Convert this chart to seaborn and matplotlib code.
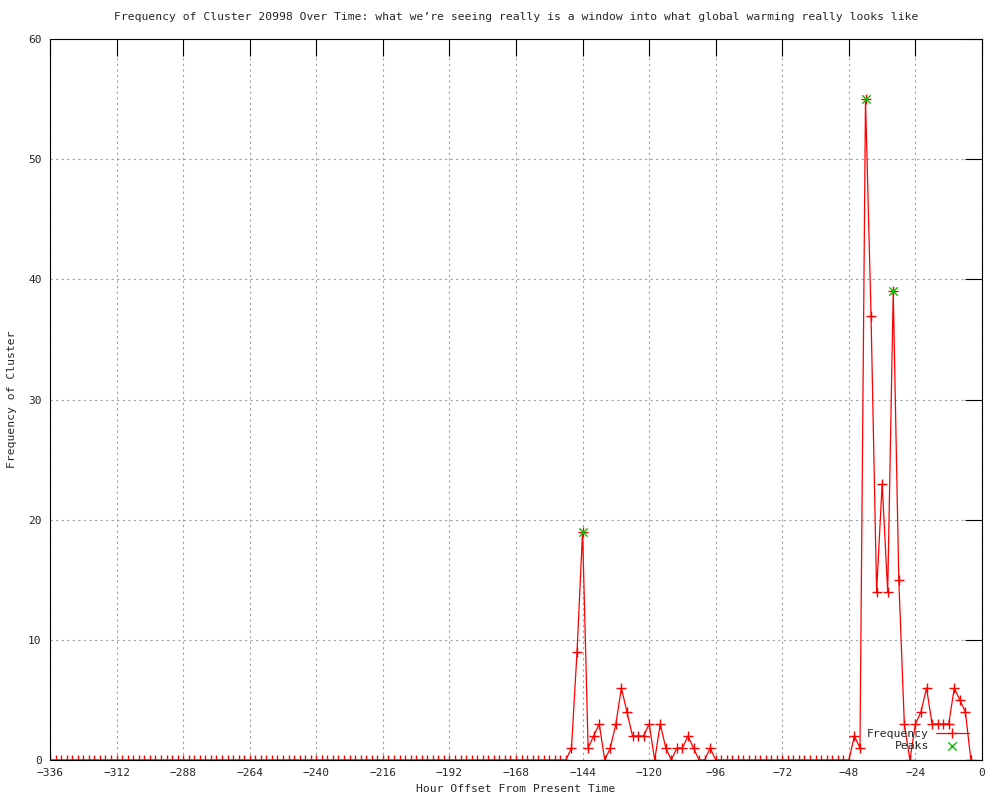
import pandas as pd
import matplotlib
matplotlib.use('Agg')
import matplotlib.pyplot as plt
import seaborn as sns

# Hour offsets (every 2 hours) and cluster counts
hours = list(range(-336, -2, 2))
frequency = [
    # -336 .. -150
    0, 0, 0, 0, 0, 0, 0, 0, 0, 0, 0, 0, 0, 0, 0, 0, 0, 0, 0, 0,
    0, 0, 0, 0, 0, 0, 0, 0, 0, 0, 0, 0, 0, 0, 0, 0, 0, 0, 0, 0,
    0, 0, 0, 0, 0, 0, 0, 0, 0, 0, 0, 0, 0, 0, 0, 0, 0, 0, 0, 0,
    0, 0, 0, 0, 0, 0, 0, 0, 0, 0, 0, 0, 0, 0, 0, 0, 0, 0, 0, 0,
    0, 0, 0, 0, 0, 0, 0, 0, 0, 0, 0, 0, 0, 0,
    # -148 .. -96
    1, 9, 19, 1, 2, 3, 0, 1, 3, 6, 4, 2, 2, 2, 3, 0, 3, 1, 0, 1,
    1, 2, 1, 0, 0, 1, 0,
    # -94 .. -48
    0, 0, 0, 0, 0, 0, 0, 0, 0, 0, 0, 0, 0, 0, 0, 0, 0, 0, 0, 0,
    0, 0, 0, 0,
    # -46 .. -4
    2, 1, 55, 37, 14, 23, 14, 39, 15, 3, 0, 3, 4, 6, 3, 3, 3, 3, 6, 5,
    4, 0,
]
peak_hours = [-144, -42, -32]
peak_values = [19, 55, 39]

x_ticks = list(range(-336, 1, 24))
y_ticks = [0, 10, 20, 30, 40, 50, 60]

df = pd.DataFrame({'hour': hours, 'freq': frequency})
peaks = pd.DataFrame({'hour': peak_hours, 'freq': peak_values})

sns.set_style('white')
plt.rcParams['font.family'] = ['DejaVu Sans Mono']

fig, ax = plt.subplots(figsize=(10, 8), dpi=100)
fig.subplots_adjust(left=0.05, right=0.982, bottom=0.05, top=0.951)

sns.lineplot(data=df, x='hour', y='freq', ax=ax, color='#ff0000',
             linewidth=0.9, marker='+', markersize=7, markeredgewidth=1,
             markeredgecolor='#ff0000', label='Frequency')
sns.scatterplot(data=peaks, x='hour', y='freq', ax=ax, color='#00c000',
                marker='x', s=36, linewidth=1, label='Peaks', zorder=5)

ax.set_xlim(-336, 0)
ax.set_ylim(0, 60)
ax.set_xticks(x_ticks)
ax.set_yticks(y_ticks)
ax.grid(True, color='#a0a0a0', linestyle=(0, (2, 3)), linewidth=0.8)
ax.set_axisbelow(True)
ax.tick_params(direction='in', length=12, width=0.8, top=True, right=True,
               labelsize=8, color='black', pad=6)
for s in ax.spines.values():
    s.set_color('black')
    s.set_linewidth(0.8)

ax.set_title('Frequency of Cluster 20998 Over Time: what we\u2019re seeing really is a '
             'window into what global warming really looks like', fontsize=8.2, pad=14)
ax.set_xlabel('Hour Offset From Present Time', fontsize=8.2, labelpad=4)
ax.set_ylabel('Frequency of Cluster', fontsize=8.2, labelpad=8)

ax.legend(loc='lower right', bbox_to_anchor=(0.997, -0.002), frameon=False,
          markerfirst=False, fontsize=8.2, handlelength=2.9, labelspacing=0.2,
          borderaxespad=0.5, handletextpad=0.6)

plt.savefig('out.png', dpi=100)
